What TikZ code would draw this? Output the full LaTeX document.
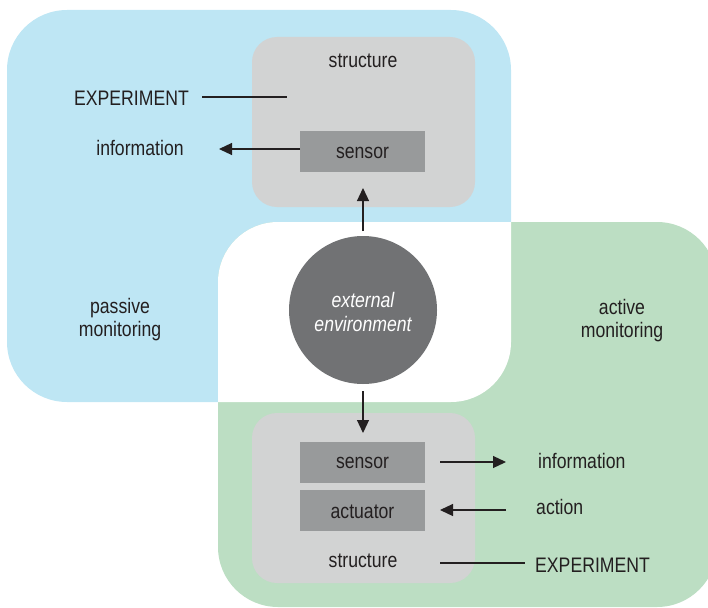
\documentclass[tikz,border=0pt]{standalone}
\usepackage{fontspec}
\setmainfont{Liberation Sans}[FakeStretch=0.84]
\usetikzlibrary{arrows.meta}
\definecolor{bluebg}{HTML}{BEE6F4}
\definecolor{greenbg}{HTML}{BCDEC3}
\definecolor{structgray}{HTML}{D2D3D3}
\definecolor{partgray}{HTML}{989A9B}
\definecolor{circgray}{HTML}{717274}
\definecolor{ink}{HTML}{231F20}
\tikzset{
  lbl/.style={inner sep=0pt, text=ink, font=\fontsize{21}{24}\selectfont},
  partbox/.style={fill=partgray, minimum width=125pt, minimum height=41pt, inner sep=0pt},
  structbox/.style={fill=structgray, rounded corners=25pt},
  conn/.style={draw=ink, line width=1.2pt},
  arr/.style={conn, -{Triangle[length=13pt,width=12pt]}}
}
\begin{document}
\begin{tikzpicture}[x=1pt,y=-1pt]
\useasboundingbox (0,0) rectangle (708,607);
\begin{scope}
\clip (0,0) rectangle (708,607);
% regions
\fill[bluebg, rounded corners=60pt] (7,10) rectangle (511,402);
\fill[greenbg, rounded corners=60pt] (218,222) rectangle (717,607);
\begin{scope}
\clip[rounded corners=60pt] (7,10) rectangle (511,402);
\fill[white, rounded corners=60pt] (218,222) rectangle (717,607);
\end{scope}
\end{scope}
% top structure
\fill[structbox] (252,37) rectangle (475,207);
\node[partbox] (sensA) at (362.5,151.5) {};
\node[lbl, anchor=base] at (362.5,158) {sensor};
\node[lbl, anchor=base] (structA) at (363,68) {structure};
\node[lbl, anchor=base] (expA) at (131.5,105) {EXPERIMENT};
\node[lbl, anchor=base] (infoA) at (140,155) {information};
% bottom structure
\fill[structbox] (252,413) rectangle (475,583);
\node[partbox] (sensB) at (362.5,462.5) {};
\node[lbl, anchor=base] at (362.5,468) {sensor};
\node[partbox] (actu) at (362.5,510.5) {};
\node[lbl, anchor=base] at (362.5,518) {actuator};
\node[lbl, anchor=base] (structB) at (363,567) {structure};
\node[lbl, anchor=base west] (infoB) at (538,468) {information};
\node[lbl, anchor=base west] (actionB) at (536,514) {action};
\node[lbl, anchor=base west] (expB) at (535,572) {EXPERIMENT};
% circle
\node[circle, fill=circgray, minimum size=148pt, inner sep=0pt] (env) at (363,310) {};
\node[lbl, text=white, font=\fontsize{21}{24}\selectfont\itshape, anchor=base] (envA) at (363,307) {external};
\node[lbl, text=white, font=\fontsize{21}{24}\selectfont\itshape, anchor=base] (envB) at (363,331) {environment};
% side labels
\node[lbl, anchor=base] (pasA) at (120,313) {passive};
\node[lbl, anchor=base] (pasB) at (120,336) {monitoring};
\node[lbl, anchor=base] (actA) at (622,314) {active};
\node[lbl, anchor=base] (actB) at (622,337) {monitoring};
% connectors
\coordinate (expAstart) at (202,97);
\coordinate (expAend) at (287,97);
\draw[conn] (expAstart) -- (expAend);
\coordinate (infoAstart) at (300,149);
\coordinate (infoAtip) at (219,149);
\draw[arr] (infoAstart) -- (infoAtip);
\coordinate (upstart) at (363,231);
\coordinate (uptip) at (363,188);
\draw[arr] (upstart) -- (uptip);
\coordinate (dnstart) at (363,391);
\coordinate (dntip) at (363,433);
\draw[arr] (dnstart) -- (dntip);
\coordinate (infoBstart) at (440,462);
\coordinate (infoBtip) at (506,462);
\draw[arr] (infoBstart) -- (infoBtip);
\coordinate (actBstart) at (506,510);
\coordinate (actBtip) at (440,510);
\draw[arr] (actBstart) -- (actBtip);
\coordinate (expBstart) at (440,563);
\coordinate (expBend) at (525,563);
\draw[conn] (expBstart) -- (expBend);
\end{tikzpicture}
\end{document}
